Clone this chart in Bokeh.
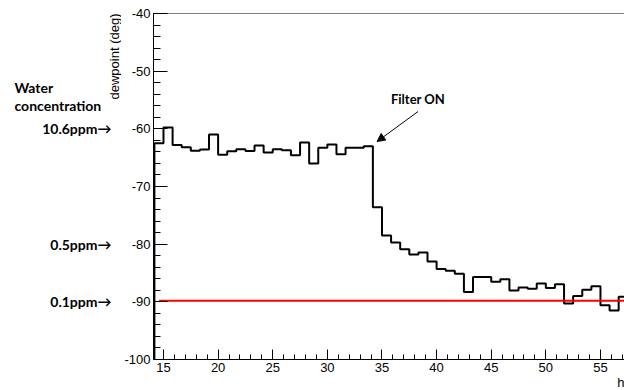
import numpy as np
from bokeh.plotting import figure
from bokeh.layouts import row
from bokeh.core.properties import value
from bokeh.models import (Range1d, SingleIntervalTicker, Span, Arrow, Label,
                          NormalHead, PrintfTickFormatter, Title)
from bokeh.embed import file_html
from bokeh.resources import INLINE

# ---- data ----
bin_start = 14.1667          # hours, left edge of first bin
bin_width = 5.0 / 6.0        # hours per bin
dewpoint = [-62.5, -59.75, -62.8, -63.2, -63.8, -63.6, -61.0, -64.5, -63.9, -63.55,
            -63.85, -62.9, -64.1, -63.55, -63.7, -64.6, -62.35, -66.0, -63.3, -62.7,
            -64.4, -63.3, -63.3, -63.0, -73.6, -78.5, -79.7, -80.9, -81.8, -81.45,
            -83.0, -84.3, -84.6, -85.15, -88.3, -85.7, -85.7, -86.5, -86.1, -88.05,
            -87.5, -87.75, -86.8, -87.6, -86.95, -90.3, -89.0, -87.9, -87.3, -90.6,
            -91.5, -89.1]
ref_level = -89.8            # 0.1 ppm reference line
ref_start = 14.6
ppm_labels = ["10.6ppm\u2192", "0.5ppm\u2192", "0.1ppm\u2192"]
ppm_levels = [-60, -80, -90]
heading_lines = ["Water", "concentration"]
heading_levels = [-52.9, -56.0]
y_title = "dewpoint (deg)"
x_title = "h"
filter_on_time = 34.55
filter_on_value = -62.2

y_min, y_max = -100, -40
x_min, x_max = 14.085, 57.2

FONT = "Liberation Sans"
BOLD = "Lato"
H = 390
TOP, BOTTOM = 13, 31
LEFT_W = 121

yr = Range1d(y_min, y_max)

# ---------- left strip: notes and the y axis title ----------
pl = figure(width=LEFT_W, height=H, output_backend="svg", toolbar_location=None,
            x_range=Range1d(0, LEFT_W), y_range=yr,
            min_border_left=0, min_border_right=0, min_border_top=TOP,
            min_border_bottom=BOTTOM)
pl.axis.visible = False
pl.grid.visible = False
pl.outline_line_color = None
pl.text(x=[14] * len(heading_lines), y=heading_levels, text=heading_lines,
        text_align="left", text_baseline="middle", text_font=value(BOLD),
        text_font_style="bold", text_font_size="14px", text_color="black")
pl.text(x=[111] * len(ppm_labels), y=ppm_levels, text=ppm_labels,
        text_align="right", text_baseline="middle", text_font=value(BOLD),
        text_font_style="bold", text_font_size="14px", text_color="black")
pl.text(x=[114], y=[y_max], text=[y_title], angle=np.pi / 2,
        text_align="right", text_baseline="middle", text_font=value(FONT),
        text_font_size="13px", text_color="black")

# ---------- main plot ----------
p = figure(width=624 - LEFT_W, height=H, output_backend="svg", toolbar_location=None,
           x_range=Range1d(x_min, x_max), y_range=yr,
           min_border_left=153 - LEFT_W, min_border_right=0, min_border_top=TOP,
           min_border_bottom=BOTTOM)
p.outline_line_color = None
p.background_fill_color = "white"
p.border_fill_color = "white"
p.xgrid.visible = False
p.ygrid.visible = False

# histogram outline
n = len(dewpoint)
edges = bin_start + bin_width * np.arange(n + 1)
xs = np.concatenate([[edges[0]], np.repeat(edges, 2)[1:-1], [edges[-1]]])
ys = np.concatenate([[y_min], np.repeat(dewpoint, 2), [y_min]])
p.line(xs, ys, line_color="black", line_width=2)

# red reference line
p.line([ref_start, x_max + 1], [ref_level, ref_level], line_color="#ff0000", line_width=2)

# axes
for ax in (p.xaxis[0], p.yaxis[0]):
    ax.axis_line_color = "black"
    ax.axis_line_width = 1
    ax.major_tick_line_color = "black"
    ax.minor_tick_line_color = "black"
    ax.major_tick_out = 0
    ax.minor_tick_out = 0
    ax.major_label_text_font = FONT
    ax.major_label_text_font_size = "13px"
    ax.major_label_text_color = "black"
    ax.formatter = PrintfTickFormatter(format="%d")

p.yaxis.ticker = SingleIntervalTicker(interval=10, num_minor_ticks=5)
p.yaxis.major_tick_in = 14
p.yaxis.minor_tick_in = 7
p.yaxis.major_label_standoff = 3

p.xaxis.ticker = SingleIntervalTicker(interval=5, num_minor_ticks=5)
p.xaxis.major_tick_in = 10
p.xaxis.minor_tick_in = 5
p.xaxis.major_label_standoff = 3

# top frame line
p.add_layout(Span(location=y_max, dimension="width", line_color="black", line_width=1))

# x axis title at the right end
p.add_layout(Title(text=x_title, align="right", text_font=FONT,
                   text_font_size="13px", text_font_style="normal",
                   text_color="black", standoff=-4), "below")

# Filter ON annotation
p.add_layout(Label(x=38.3, y=-54.8, text="Filter ON", text_align="center",
                   text_baseline="middle", text_font=BOLD, text_font_style="bold",
                   text_font_size="13px", text_color="black"))
p.add_layout(Arrow(x_start=38.3, y_start=-57.0, x_end=filter_on_time, y_end=filter_on_value,
                   line_color="black", line_width=1,
                   end=NormalHead(size=8, fill_color="black", line_color="black")))

layout = row(pl, p, spacing=0)
open("out.html", "w").write(file_html(layout, INLINE))
